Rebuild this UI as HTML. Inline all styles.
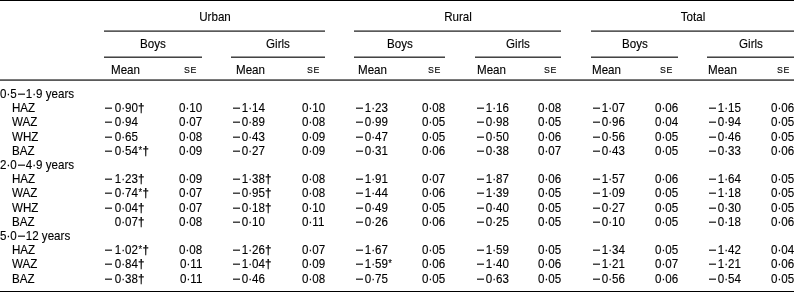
<!DOCTYPE html>
<html><head><meta charset="utf-8"><style>
html,body{margin:0;padding:0;background:#fff;}
body{width:794px;height:292px;position:relative;overflow:hidden;font-family:"Liberation Sans", sans-serif;color:#000;-webkit-text-stroke:0.12px #000;}
.t{position:absolute;white-space:nowrap;will-change:transform;}
.c{text-align:center;}
.l{position:absolute;}
.g{display:inline-block;width:2.17px;}
.m{display:inline-block;width:6.8px;height:1.2px;background:#000;vertical-align:2.85px;margin-left:0.8px;}
b{font-weight:bold;}
.m.c0{margin-left:0px;}
.g.c0{width:2.9699999999999998px;}
.a{font-size:0.8em;line-height:0;vertical-align:0.08em;margin-left:0.4px;margin-right:0.5px;}
.m.d{margin-left:1.5px;margin-right:0.77px;width:6.7px;}
</style></head><body>
<div class="l" style="left:0px;width:794px;top:0px;height:1px;background:#000"></div>
<div class="l" style="left:0px;width:794px;top:79px;height:1px;background:#7a7a7a"></div>
<div class="l" style="left:0px;width:794px;top:80px;height:1px;background:#5a5a5a"></div>
<div class="l" style="left:0px;width:794px;top:291px;height:1px;background:#000"></div>
<div class="t c" style="left:114.50px;width:200px;top:11.28px;font-size:11.6px;line-height:11.6px;transform:scale(1.0,1.1);transform-origin:50% 9.82px;">Urban</div>
<div class="l" style="left:104px;width:221px;top:30px;height:1px;background:#8a8a8a"></div>
<div class="l" style="left:104px;width:221px;top:31px;height:1px;background:#5a5a5a"></div>
<div class="t c" style="left:357.50px;width:200px;top:11.28px;font-size:11.6px;line-height:11.6px;transform:scale(1.0,1.1);transform-origin:50% 9.82px;">Rural</div>
<div class="l" style="left:354px;width:207px;top:30px;height:1px;background:#8a8a8a"></div>
<div class="l" style="left:354px;width:207px;top:31px;height:1px;background:#5a5a5a"></div>
<div class="t c" style="left:592.50px;width:200px;top:11.28px;font-size:11.6px;line-height:11.6px;transform:scale(1.0,1.1);transform-origin:50% 9.82px;">Total</div>
<div class="l" style="left:591px;width:203px;top:30px;height:1px;background:#8a8a8a"></div>
<div class="l" style="left:591px;width:203px;top:31px;height:1px;background:#5a5a5a"></div>
<div class="t c" style="left:53.00px;width:200px;top:37.68px;font-size:11.6px;line-height:11.6px;transform:scale(1.0,1.1);transform-origin:50% 9.82px;">Boys</div>
<div class="l" style="left:104px;width:98px;top:56px;height:1px;background:#9a9a9a"></div>
<div class="l" style="left:104px;width:98px;top:57px;height:1px;background:#444"></div>
<div class="t" style="left:110.90px;top:63.98px;font-size:11.6px;line-height:11.6px;transform:scale(1.0,1.1);transform-origin:0 9.82px;">Mean</div>
<div class="t" style="right:597.90px;top:66.15px;font-size:8.8px;line-height:8.8px;transform:scale(1.0,1.1);transform-origin:100% 7.45px;letter-spacing:0.5px;">S<span style="letter-spacing:0">E</span></div>
<div class="t c" style="left:178.00px;width:200px;top:37.68px;font-size:11.6px;line-height:11.6px;transform:scale(1.0,1.1);transform-origin:50% 9.82px;">Girls</div>
<div class="l" style="left:231px;width:94px;top:56px;height:1px;background:#9a9a9a"></div>
<div class="l" style="left:231px;width:94px;top:57px;height:1px;background:#444"></div>
<div class="t" style="left:236.30px;top:63.98px;font-size:11.6px;line-height:11.6px;transform:scale(1.0,1.1);transform-origin:0 9.82px;">Mean</div>
<div class="t" style="right:475.10px;top:66.15px;font-size:8.8px;line-height:8.8px;transform:scale(1.0,1.1);transform-origin:100% 7.45px;letter-spacing:0.5px;">S<span style="letter-spacing:0">E</span></div>
<div class="t c" style="left:299.50px;width:200px;top:37.68px;font-size:11.6px;line-height:11.6px;transform:scale(1.0,1.1);transform-origin:50% 9.82px;">Boys</div>
<div class="l" style="left:354px;width:91px;top:56px;height:1px;background:#9a9a9a"></div>
<div class="l" style="left:354px;width:91px;top:57px;height:1px;background:#444"></div>
<div class="t" style="left:357.50px;top:63.98px;font-size:11.6px;line-height:11.6px;transform:scale(1.0,1.1);transform-origin:0 9.82px;">Mean</div>
<div class="t" style="right:354.20px;top:66.15px;font-size:8.8px;line-height:8.8px;transform:scale(1.0,1.1);transform-origin:100% 7.45px;letter-spacing:0.5px;">S<span style="letter-spacing:0">E</span></div>
<div class="t c" style="left:418.00px;width:200px;top:37.68px;font-size:11.6px;line-height:11.6px;transform:scale(1.0,1.1);transform-origin:50% 9.82px;">Girls</div>
<div class="l" style="left:475px;width:86px;top:56px;height:1px;background:#9a9a9a"></div>
<div class="l" style="left:475px;width:86px;top:57px;height:1px;background:#444"></div>
<div class="t" style="left:476.70px;top:63.98px;font-size:11.6px;line-height:11.6px;transform:scale(1.0,1.1);transform-origin:0 9.82px;">Mean</div>
<div class="t" style="right:238.20px;top:66.15px;font-size:8.8px;line-height:8.8px;transform:scale(1.0,1.1);transform-origin:100% 7.45px;letter-spacing:0.5px;">S<span style="letter-spacing:0">E</span></div>
<div class="t c" style="left:534.50px;width:200px;top:37.68px;font-size:11.6px;line-height:11.6px;transform:scale(1.0,1.1);transform-origin:50% 9.82px;">Boys</div>
<div class="l" style="left:591px;width:87px;top:56px;height:1px;background:#9a9a9a"></div>
<div class="l" style="left:591px;width:87px;top:57px;height:1px;background:#444"></div>
<div class="t" style="left:592.40px;top:63.98px;font-size:11.6px;line-height:11.6px;transform:scale(1.0,1.1);transform-origin:0 9.82px;">Mean</div>
<div class="t" style="right:121.70px;top:66.15px;font-size:8.8px;line-height:8.8px;transform:scale(1.0,1.1);transform-origin:100% 7.45px;letter-spacing:0.5px;">S<span style="letter-spacing:0">E</span></div>
<div class="t c" style="left:650.50px;width:200px;top:37.68px;font-size:11.6px;line-height:11.6px;transform:scale(1.0,1.1);transform-origin:50% 9.82px;">Girls</div>
<div class="l" style="left:707px;width:87px;top:56px;height:1px;background:#9a9a9a"></div>
<div class="l" style="left:707px;width:87px;top:57px;height:1px;background:#444"></div>
<div class="t" style="left:708.10px;top:63.98px;font-size:11.6px;line-height:11.6px;transform:scale(1.0,1.1);transform-origin:0 9.82px;">Mean</div>
<div class="t" style="right:5.20px;top:66.15px;font-size:8.8px;line-height:8.8px;transform:scale(1.0,1.1);transform-origin:100% 7.45px;letter-spacing:0.5px;">S<span style="letter-spacing:0">E</span></div>
<div class="t" style="left:0.00px;top:88.08px;font-size:11.6px;line-height:11.6px;transform:scale(1.0,1.1);transform-origin:0 9.82px;">0·5<span class="m d"></span>1·9 years</div>
<div class="t" style="left:11.80px;top:102.27px;font-size:11.6px;line-height:11.6px;transform:scale(1.0,1.1);transform-origin:0 9.82px;">HAZ</div>
<div class="t" style="left:105.00px;top:102.27px;font-size:11.6px;line-height:11.6px;transform:scale(1.0,1.1);transform-origin:0 9.82px;"><span class="m c0"></span><span class="g c0"></span>0·90<b>†</b></div>
<div class="t" style="right:592.10px;top:102.27px;font-size:11.6px;line-height:11.6px;transform:scale(1.0,1.1);transform-origin:100% 9.82px;">0·10</div>
<div class="t" style="left:232.00px;top:102.27px;font-size:11.6px;line-height:11.6px;transform:scale(1.0,1.1);transform-origin:0 9.82px;"><span class="m"></span><span class="g"></span>1·14</div>
<div class="t" style="right:469.20px;top:102.27px;font-size:11.6px;line-height:11.6px;transform:scale(1.0,1.1);transform-origin:100% 9.82px;">0·10</div>
<div class="t" style="left:355.00px;top:102.27px;font-size:11.6px;line-height:11.6px;transform:scale(1.0,1.1);transform-origin:0 9.82px;"><span class="m"></span><span class="g"></span>1·23</div>
<div class="t" style="right:348.90px;top:102.27px;font-size:11.6px;line-height:11.6px;transform:scale(1.0,1.1);transform-origin:100% 9.82px;">0·08</div>
<div class="t" style="left:476.00px;top:102.27px;font-size:11.6px;line-height:11.6px;transform:scale(1.0,1.1);transform-origin:0 9.82px;"><span class="m"></span><span class="g"></span>1·16</div>
<div class="t" style="right:232.60px;top:102.27px;font-size:11.6px;line-height:11.6px;transform:scale(1.0,1.1);transform-origin:100% 9.82px;">0·08</div>
<div class="t" style="left:592.00px;top:102.27px;font-size:11.6px;line-height:11.6px;transform:scale(1.0,1.1);transform-origin:0 9.82px;"><span class="m"></span><span class="g"></span>1·07</div>
<div class="t" style="right:116.00px;top:102.27px;font-size:11.6px;line-height:11.6px;transform:scale(1.0,1.1);transform-origin:100% 9.82px;">0·06</div>
<div class="t" style="left:708.00px;top:102.27px;font-size:11.6px;line-height:11.6px;transform:scale(1.0,1.1);transform-origin:0 9.82px;"><span class="m"></span><span class="g"></span>1·15</div>
<div class="t" style="right:0.00px;top:102.27px;font-size:11.6px;line-height:11.6px;transform:scale(1.0,1.1);transform-origin:100% 9.82px;">0·06</div>
<div class="t" style="left:11.80px;top:116.46px;font-size:11.6px;line-height:11.6px;transform:scale(1.0,1.1);transform-origin:0 9.82px;">WAZ</div>
<div class="t" style="left:105.00px;top:116.46px;font-size:11.6px;line-height:11.6px;transform:scale(1.0,1.1);transform-origin:0 9.82px;"><span class="m c0"></span><span class="g c0"></span>0·94</div>
<div class="t" style="right:592.10px;top:116.46px;font-size:11.6px;line-height:11.6px;transform:scale(1.0,1.1);transform-origin:100% 9.82px;">0·07</div>
<div class="t" style="left:232.00px;top:116.46px;font-size:11.6px;line-height:11.6px;transform:scale(1.0,1.1);transform-origin:0 9.82px;"><span class="m"></span><span class="g"></span>0·89</div>
<div class="t" style="right:469.20px;top:116.46px;font-size:11.6px;line-height:11.6px;transform:scale(1.0,1.1);transform-origin:100% 9.82px;">0·08</div>
<div class="t" style="left:355.00px;top:116.46px;font-size:11.6px;line-height:11.6px;transform:scale(1.0,1.1);transform-origin:0 9.82px;"><span class="m"></span><span class="g"></span>0·99</div>
<div class="t" style="right:348.90px;top:116.46px;font-size:11.6px;line-height:11.6px;transform:scale(1.0,1.1);transform-origin:100% 9.82px;">0·05</div>
<div class="t" style="left:476.00px;top:116.46px;font-size:11.6px;line-height:11.6px;transform:scale(1.0,1.1);transform-origin:0 9.82px;"><span class="m"></span><span class="g"></span>0·98</div>
<div class="t" style="right:232.60px;top:116.46px;font-size:11.6px;line-height:11.6px;transform:scale(1.0,1.1);transform-origin:100% 9.82px;">0·05</div>
<div class="t" style="left:592.00px;top:116.46px;font-size:11.6px;line-height:11.6px;transform:scale(1.0,1.1);transform-origin:0 9.82px;"><span class="m"></span><span class="g"></span>0·96</div>
<div class="t" style="right:116.00px;top:116.46px;font-size:11.6px;line-height:11.6px;transform:scale(1.0,1.1);transform-origin:100% 9.82px;">0·04</div>
<div class="t" style="left:708.00px;top:116.46px;font-size:11.6px;line-height:11.6px;transform:scale(1.0,1.1);transform-origin:0 9.82px;"><span class="m"></span><span class="g"></span>0·94</div>
<div class="t" style="right:0.00px;top:116.46px;font-size:11.6px;line-height:11.6px;transform:scale(1.0,1.1);transform-origin:100% 9.82px;">0·05</div>
<div class="t" style="left:11.80px;top:130.65px;font-size:11.6px;line-height:11.6px;transform:scale(1.0,1.1);transform-origin:0 9.82px;">WHZ</div>
<div class="t" style="left:105.00px;top:130.65px;font-size:11.6px;line-height:11.6px;transform:scale(1.0,1.1);transform-origin:0 9.82px;"><span class="m c0"></span><span class="g c0"></span>0·65</div>
<div class="t" style="right:592.10px;top:130.65px;font-size:11.6px;line-height:11.6px;transform:scale(1.0,1.1);transform-origin:100% 9.82px;">0·08</div>
<div class="t" style="left:232.00px;top:130.65px;font-size:11.6px;line-height:11.6px;transform:scale(1.0,1.1);transform-origin:0 9.82px;"><span class="m"></span><span class="g"></span>0·43</div>
<div class="t" style="right:469.20px;top:130.65px;font-size:11.6px;line-height:11.6px;transform:scale(1.0,1.1);transform-origin:100% 9.82px;">0·09</div>
<div class="t" style="left:355.00px;top:130.65px;font-size:11.6px;line-height:11.6px;transform:scale(1.0,1.1);transform-origin:0 9.82px;"><span class="m"></span><span class="g"></span>0·47</div>
<div class="t" style="right:348.90px;top:130.65px;font-size:11.6px;line-height:11.6px;transform:scale(1.0,1.1);transform-origin:100% 9.82px;">0·05</div>
<div class="t" style="left:476.00px;top:130.65px;font-size:11.6px;line-height:11.6px;transform:scale(1.0,1.1);transform-origin:0 9.82px;"><span class="m"></span><span class="g"></span>0·50</div>
<div class="t" style="right:232.60px;top:130.65px;font-size:11.6px;line-height:11.6px;transform:scale(1.0,1.1);transform-origin:100% 9.82px;">0·06</div>
<div class="t" style="left:592.00px;top:130.65px;font-size:11.6px;line-height:11.6px;transform:scale(1.0,1.1);transform-origin:0 9.82px;"><span class="m"></span><span class="g"></span>0·56</div>
<div class="t" style="right:116.00px;top:130.65px;font-size:11.6px;line-height:11.6px;transform:scale(1.0,1.1);transform-origin:100% 9.82px;">0·05</div>
<div class="t" style="left:708.00px;top:130.65px;font-size:11.6px;line-height:11.6px;transform:scale(1.0,1.1);transform-origin:0 9.82px;"><span class="m"></span><span class="g"></span>0·46</div>
<div class="t" style="right:0.00px;top:130.65px;font-size:11.6px;line-height:11.6px;transform:scale(1.0,1.1);transform-origin:100% 9.82px;">0·05</div>
<div class="t" style="left:11.80px;top:144.84px;font-size:11.6px;line-height:11.6px;transform:scale(1.0,1.1);transform-origin:0 9.82px;">BAZ</div>
<div class="t" style="left:105.00px;top:144.84px;font-size:11.6px;line-height:11.6px;transform:scale(1.0,1.1);transform-origin:0 9.82px;"><span class="m c0"></span><span class="g c0"></span>0·54<span class="a">*</span><b>†</b></div>
<div class="t" style="right:592.10px;top:144.84px;font-size:11.6px;line-height:11.6px;transform:scale(1.0,1.1);transform-origin:100% 9.82px;">0·09</div>
<div class="t" style="left:232.00px;top:144.84px;font-size:11.6px;line-height:11.6px;transform:scale(1.0,1.1);transform-origin:0 9.82px;"><span class="m"></span><span class="g"></span>0·27</div>
<div class="t" style="right:469.20px;top:144.84px;font-size:11.6px;line-height:11.6px;transform:scale(1.0,1.1);transform-origin:100% 9.82px;">0·09</div>
<div class="t" style="left:355.00px;top:144.84px;font-size:11.6px;line-height:11.6px;transform:scale(1.0,1.1);transform-origin:0 9.82px;"><span class="m"></span><span class="g"></span>0·31</div>
<div class="t" style="right:348.90px;top:144.84px;font-size:11.6px;line-height:11.6px;transform:scale(1.0,1.1);transform-origin:100% 9.82px;">0·06</div>
<div class="t" style="left:476.00px;top:144.84px;font-size:11.6px;line-height:11.6px;transform:scale(1.0,1.1);transform-origin:0 9.82px;"><span class="m"></span><span class="g"></span>0·38</div>
<div class="t" style="right:232.60px;top:144.84px;font-size:11.6px;line-height:11.6px;transform:scale(1.0,1.1);transform-origin:100% 9.82px;">0·07</div>
<div class="t" style="left:592.00px;top:144.84px;font-size:11.6px;line-height:11.6px;transform:scale(1.0,1.1);transform-origin:0 9.82px;"><span class="m"></span><span class="g"></span>0·43</div>
<div class="t" style="right:116.00px;top:144.84px;font-size:11.6px;line-height:11.6px;transform:scale(1.0,1.1);transform-origin:100% 9.82px;">0·05</div>
<div class="t" style="left:708.00px;top:144.84px;font-size:11.6px;line-height:11.6px;transform:scale(1.0,1.1);transform-origin:0 9.82px;"><span class="m"></span><span class="g"></span>0·33</div>
<div class="t" style="right:0.00px;top:144.84px;font-size:11.6px;line-height:11.6px;transform:scale(1.0,1.1);transform-origin:100% 9.82px;">0·06</div>
<div class="t" style="left:0.00px;top:159.03px;font-size:11.6px;line-height:11.6px;transform:scale(1.0,1.1);transform-origin:0 9.82px;">2·0<span class="m d"></span>4·9 years</div>
<div class="t" style="left:11.80px;top:173.22px;font-size:11.6px;line-height:11.6px;transform:scale(1.0,1.1);transform-origin:0 9.82px;">HAZ</div>
<div class="t" style="left:105.00px;top:173.22px;font-size:11.6px;line-height:11.6px;transform:scale(1.0,1.1);transform-origin:0 9.82px;"><span class="m c0"></span><span class="g c0"></span>1·23<b>†</b></div>
<div class="t" style="right:592.10px;top:173.22px;font-size:11.6px;line-height:11.6px;transform:scale(1.0,1.1);transform-origin:100% 9.82px;">0·09</div>
<div class="t" style="left:232.00px;top:173.22px;font-size:11.6px;line-height:11.6px;transform:scale(1.0,1.1);transform-origin:0 9.82px;"><span class="m"></span><span class="g"></span>1·38<b>†</b></div>
<div class="t" style="right:469.20px;top:173.22px;font-size:11.6px;line-height:11.6px;transform:scale(1.0,1.1);transform-origin:100% 9.82px;">0·08</div>
<div class="t" style="left:355.00px;top:173.22px;font-size:11.6px;line-height:11.6px;transform:scale(1.0,1.1);transform-origin:0 9.82px;"><span class="m"></span><span class="g"></span>1·91</div>
<div class="t" style="right:348.90px;top:173.22px;font-size:11.6px;line-height:11.6px;transform:scale(1.0,1.1);transform-origin:100% 9.82px;">0·07</div>
<div class="t" style="left:476.00px;top:173.22px;font-size:11.6px;line-height:11.6px;transform:scale(1.0,1.1);transform-origin:0 9.82px;"><span class="m"></span><span class="g"></span>1·87</div>
<div class="t" style="right:232.60px;top:173.22px;font-size:11.6px;line-height:11.6px;transform:scale(1.0,1.1);transform-origin:100% 9.82px;">0·06</div>
<div class="t" style="left:592.00px;top:173.22px;font-size:11.6px;line-height:11.6px;transform:scale(1.0,1.1);transform-origin:0 9.82px;"><span class="m"></span><span class="g"></span>1·57</div>
<div class="t" style="right:116.00px;top:173.22px;font-size:11.6px;line-height:11.6px;transform:scale(1.0,1.1);transform-origin:100% 9.82px;">0·06</div>
<div class="t" style="left:708.00px;top:173.22px;font-size:11.6px;line-height:11.6px;transform:scale(1.0,1.1);transform-origin:0 9.82px;"><span class="m"></span><span class="g"></span>1·64</div>
<div class="t" style="right:0.00px;top:173.22px;font-size:11.6px;line-height:11.6px;transform:scale(1.0,1.1);transform-origin:100% 9.82px;">0·05</div>
<div class="t" style="left:11.80px;top:187.41px;font-size:11.6px;line-height:11.6px;transform:scale(1.0,1.1);transform-origin:0 9.82px;">WAZ</div>
<div class="t" style="left:105.00px;top:187.41px;font-size:11.6px;line-height:11.6px;transform:scale(1.0,1.1);transform-origin:0 9.82px;"><span class="m c0"></span><span class="g c0"></span>0·74<span class="a">*</span><b>†</b></div>
<div class="t" style="right:592.10px;top:187.41px;font-size:11.6px;line-height:11.6px;transform:scale(1.0,1.1);transform-origin:100% 9.82px;">0·07</div>
<div class="t" style="left:232.00px;top:187.41px;font-size:11.6px;line-height:11.6px;transform:scale(1.0,1.1);transform-origin:0 9.82px;"><span class="m"></span><span class="g"></span>0·95<b>†</b></div>
<div class="t" style="right:469.20px;top:187.41px;font-size:11.6px;line-height:11.6px;transform:scale(1.0,1.1);transform-origin:100% 9.82px;">0·08</div>
<div class="t" style="left:355.00px;top:187.41px;font-size:11.6px;line-height:11.6px;transform:scale(1.0,1.1);transform-origin:0 9.82px;"><span class="m"></span><span class="g"></span>1·44</div>
<div class="t" style="right:348.90px;top:187.41px;font-size:11.6px;line-height:11.6px;transform:scale(1.0,1.1);transform-origin:100% 9.82px;">0·06</div>
<div class="t" style="left:476.00px;top:187.41px;font-size:11.6px;line-height:11.6px;transform:scale(1.0,1.1);transform-origin:0 9.82px;"><span class="m"></span><span class="g"></span>1·39</div>
<div class="t" style="right:232.60px;top:187.41px;font-size:11.6px;line-height:11.6px;transform:scale(1.0,1.1);transform-origin:100% 9.82px;">0·05</div>
<div class="t" style="left:592.00px;top:187.41px;font-size:11.6px;line-height:11.6px;transform:scale(1.0,1.1);transform-origin:0 9.82px;"><span class="m"></span><span class="g"></span>1·09</div>
<div class="t" style="right:116.00px;top:187.41px;font-size:11.6px;line-height:11.6px;transform:scale(1.0,1.1);transform-origin:100% 9.82px;">0·05</div>
<div class="t" style="left:708.00px;top:187.41px;font-size:11.6px;line-height:11.6px;transform:scale(1.0,1.1);transform-origin:0 9.82px;"><span class="m"></span><span class="g"></span>1·18</div>
<div class="t" style="right:0.00px;top:187.41px;font-size:11.6px;line-height:11.6px;transform:scale(1.0,1.1);transform-origin:100% 9.82px;">0·05</div>
<div class="t" style="left:11.80px;top:201.60px;font-size:11.6px;line-height:11.6px;transform:scale(1.0,1.1);transform-origin:0 9.82px;">WHZ</div>
<div class="t" style="left:105.00px;top:201.60px;font-size:11.6px;line-height:11.6px;transform:scale(1.0,1.1);transform-origin:0 9.82px;"><span class="m c0"></span><span class="g c0"></span>0·04<b>†</b></div>
<div class="t" style="right:592.10px;top:201.60px;font-size:11.6px;line-height:11.6px;transform:scale(1.0,1.1);transform-origin:100% 9.82px;">0·07</div>
<div class="t" style="left:232.00px;top:201.60px;font-size:11.6px;line-height:11.6px;transform:scale(1.0,1.1);transform-origin:0 9.82px;"><span class="m"></span><span class="g"></span>0·18<b>†</b></div>
<div class="t" style="right:469.20px;top:201.60px;font-size:11.6px;line-height:11.6px;transform:scale(1.0,1.1);transform-origin:100% 9.82px;">0·10</div>
<div class="t" style="left:355.00px;top:201.60px;font-size:11.6px;line-height:11.6px;transform:scale(1.0,1.1);transform-origin:0 9.82px;"><span class="m"></span><span class="g"></span>0·49</div>
<div class="t" style="right:348.90px;top:201.60px;font-size:11.6px;line-height:11.6px;transform:scale(1.0,1.1);transform-origin:100% 9.82px;">0·05</div>
<div class="t" style="left:476.00px;top:201.60px;font-size:11.6px;line-height:11.6px;transform:scale(1.0,1.1);transform-origin:0 9.82px;"><span class="m"></span><span class="g"></span>0·40</div>
<div class="t" style="right:232.60px;top:201.60px;font-size:11.6px;line-height:11.6px;transform:scale(1.0,1.1);transform-origin:100% 9.82px;">0·05</div>
<div class="t" style="left:592.00px;top:201.60px;font-size:11.6px;line-height:11.6px;transform:scale(1.0,1.1);transform-origin:0 9.82px;"><span class="m"></span><span class="g"></span>0·27</div>
<div class="t" style="right:116.00px;top:201.60px;font-size:11.6px;line-height:11.6px;transform:scale(1.0,1.1);transform-origin:100% 9.82px;">0·05</div>
<div class="t" style="left:708.00px;top:201.60px;font-size:11.6px;line-height:11.6px;transform:scale(1.0,1.1);transform-origin:0 9.82px;"><span class="m"></span><span class="g"></span>0·30</div>
<div class="t" style="right:0.00px;top:201.60px;font-size:11.6px;line-height:11.6px;transform:scale(1.0,1.1);transform-origin:100% 9.82px;">0·05</div>
<div class="t" style="left:11.80px;top:215.79px;font-size:11.6px;line-height:11.6px;transform:scale(1.0,1.1);transform-origin:0 9.82px;">BAZ</div>
<div class="t" style="left:105.00px;top:215.79px;font-size:11.6px;line-height:11.6px;transform:scale(1.0,1.1);transform-origin:0 9.82px;"><span style="visibility:hidden"><span class="m c0"></span><span class="g c0"></span></span>0·07<b>†</b></div>
<div class="t" style="right:592.10px;top:215.79px;font-size:11.6px;line-height:11.6px;transform:scale(1.0,1.1);transform-origin:100% 9.82px;">0·08</div>
<div class="t" style="left:232.00px;top:215.79px;font-size:11.6px;line-height:11.6px;transform:scale(1.0,1.1);transform-origin:0 9.82px;"><span class="m"></span><span class="g"></span>0·10</div>
<div class="t" style="right:469.20px;top:215.79px;font-size:11.6px;line-height:11.6px;transform:scale(1.0,1.1);transform-origin:100% 9.82px;">0·11</div>
<div class="t" style="left:355.00px;top:215.79px;font-size:11.6px;line-height:11.6px;transform:scale(1.0,1.1);transform-origin:0 9.82px;"><span class="m"></span><span class="g"></span>0·26</div>
<div class="t" style="right:348.90px;top:215.79px;font-size:11.6px;line-height:11.6px;transform:scale(1.0,1.1);transform-origin:100% 9.82px;">0·06</div>
<div class="t" style="left:476.00px;top:215.79px;font-size:11.6px;line-height:11.6px;transform:scale(1.0,1.1);transform-origin:0 9.82px;"><span class="m"></span><span class="g"></span>0·25</div>
<div class="t" style="right:232.60px;top:215.79px;font-size:11.6px;line-height:11.6px;transform:scale(1.0,1.1);transform-origin:100% 9.82px;">0·05</div>
<div class="t" style="left:592.00px;top:215.79px;font-size:11.6px;line-height:11.6px;transform:scale(1.0,1.1);transform-origin:0 9.82px;"><span class="m"></span><span class="g"></span>0·10</div>
<div class="t" style="right:116.00px;top:215.79px;font-size:11.6px;line-height:11.6px;transform:scale(1.0,1.1);transform-origin:100% 9.82px;">0·05</div>
<div class="t" style="left:708.00px;top:215.79px;font-size:11.6px;line-height:11.6px;transform:scale(1.0,1.1);transform-origin:0 9.82px;"><span class="m"></span><span class="g"></span>0·18</div>
<div class="t" style="right:0.00px;top:215.79px;font-size:11.6px;line-height:11.6px;transform:scale(1.0,1.1);transform-origin:100% 9.82px;">0·06</div>
<div class="t" style="left:0.00px;top:229.98px;font-size:11.6px;line-height:11.6px;transform:scale(1.0,1.1);transform-origin:0 9.82px;">5·0<span class="m d"></span>12 years</div>
<div class="t" style="left:11.80px;top:244.17px;font-size:11.6px;line-height:11.6px;transform:scale(1.0,1.1);transform-origin:0 9.82px;">HAZ</div>
<div class="t" style="left:105.00px;top:244.17px;font-size:11.6px;line-height:11.6px;transform:scale(1.0,1.1);transform-origin:0 9.82px;"><span class="m c0"></span><span class="g c0"></span>1·02<span class="a">*</span><b>†</b></div>
<div class="t" style="right:592.10px;top:244.17px;font-size:11.6px;line-height:11.6px;transform:scale(1.0,1.1);transform-origin:100% 9.82px;">0·08</div>
<div class="t" style="left:232.00px;top:244.17px;font-size:11.6px;line-height:11.6px;transform:scale(1.0,1.1);transform-origin:0 9.82px;"><span class="m"></span><span class="g"></span>1·26<b>†</b></div>
<div class="t" style="right:469.20px;top:244.17px;font-size:11.6px;line-height:11.6px;transform:scale(1.0,1.1);transform-origin:100% 9.82px;">0·07</div>
<div class="t" style="left:355.00px;top:244.17px;font-size:11.6px;line-height:11.6px;transform:scale(1.0,1.1);transform-origin:0 9.82px;"><span class="m"></span><span class="g"></span>1·67</div>
<div class="t" style="right:348.90px;top:244.17px;font-size:11.6px;line-height:11.6px;transform:scale(1.0,1.1);transform-origin:100% 9.82px;">0·05</div>
<div class="t" style="left:476.00px;top:244.17px;font-size:11.6px;line-height:11.6px;transform:scale(1.0,1.1);transform-origin:0 9.82px;"><span class="m"></span><span class="g"></span>1·59</div>
<div class="t" style="right:232.60px;top:244.17px;font-size:11.6px;line-height:11.6px;transform:scale(1.0,1.1);transform-origin:100% 9.82px;">0·05</div>
<div class="t" style="left:592.00px;top:244.17px;font-size:11.6px;line-height:11.6px;transform:scale(1.0,1.1);transform-origin:0 9.82px;"><span class="m"></span><span class="g"></span>1·34</div>
<div class="t" style="right:116.00px;top:244.17px;font-size:11.6px;line-height:11.6px;transform:scale(1.0,1.1);transform-origin:100% 9.82px;">0·05</div>
<div class="t" style="left:708.00px;top:244.17px;font-size:11.6px;line-height:11.6px;transform:scale(1.0,1.1);transform-origin:0 9.82px;"><span class="m"></span><span class="g"></span>1·42</div>
<div class="t" style="right:0.00px;top:244.17px;font-size:11.6px;line-height:11.6px;transform:scale(1.0,1.1);transform-origin:100% 9.82px;">0·04</div>
<div class="t" style="left:11.80px;top:258.36px;font-size:11.6px;line-height:11.6px;transform:scale(1.0,1.1);transform-origin:0 9.82px;">WAZ</div>
<div class="t" style="left:105.00px;top:258.36px;font-size:11.6px;line-height:11.6px;transform:scale(1.0,1.1);transform-origin:0 9.82px;"><span class="m c0"></span><span class="g c0"></span>0·84<b>†</b></div>
<div class="t" style="right:592.10px;top:258.36px;font-size:11.6px;line-height:11.6px;transform:scale(1.0,1.1);transform-origin:100% 9.82px;">0·11</div>
<div class="t" style="left:232.00px;top:258.36px;font-size:11.6px;line-height:11.6px;transform:scale(1.0,1.1);transform-origin:0 9.82px;"><span class="m"></span><span class="g"></span>1·04<b>†</b></div>
<div class="t" style="right:469.20px;top:258.36px;font-size:11.6px;line-height:11.6px;transform:scale(1.0,1.1);transform-origin:100% 9.82px;">0·09</div>
<div class="t" style="left:355.00px;top:258.36px;font-size:11.6px;line-height:11.6px;transform:scale(1.0,1.1);transform-origin:0 9.82px;"><span class="m"></span><span class="g"></span>1·59<span class="a">*</span></div>
<div class="t" style="right:348.90px;top:258.36px;font-size:11.6px;line-height:11.6px;transform:scale(1.0,1.1);transform-origin:100% 9.82px;">0·06</div>
<div class="t" style="left:476.00px;top:258.36px;font-size:11.6px;line-height:11.6px;transform:scale(1.0,1.1);transform-origin:0 9.82px;"><span class="m"></span><span class="g"></span>1·40</div>
<div class="t" style="right:232.60px;top:258.36px;font-size:11.6px;line-height:11.6px;transform:scale(1.0,1.1);transform-origin:100% 9.82px;">0·06</div>
<div class="t" style="left:592.00px;top:258.36px;font-size:11.6px;line-height:11.6px;transform:scale(1.0,1.1);transform-origin:0 9.82px;"><span class="m"></span><span class="g"></span>1·21</div>
<div class="t" style="right:116.00px;top:258.36px;font-size:11.6px;line-height:11.6px;transform:scale(1.0,1.1);transform-origin:100% 9.82px;">0·07</div>
<div class="t" style="left:708.00px;top:258.36px;font-size:11.6px;line-height:11.6px;transform:scale(1.0,1.1);transform-origin:0 9.82px;"><span class="m"></span><span class="g"></span>1·21</div>
<div class="t" style="right:0.00px;top:258.36px;font-size:11.6px;line-height:11.6px;transform:scale(1.0,1.1);transform-origin:100% 9.82px;">0·06</div>
<div class="t" style="left:11.80px;top:272.55px;font-size:11.6px;line-height:11.6px;transform:scale(1.0,1.1);transform-origin:0 9.82px;">BAZ</div>
<div class="t" style="left:105.00px;top:272.55px;font-size:11.6px;line-height:11.6px;transform:scale(1.0,1.1);transform-origin:0 9.82px;"><span class="m c0"></span><span class="g c0"></span>0·38<b>†</b></div>
<div class="t" style="right:592.10px;top:272.55px;font-size:11.6px;line-height:11.6px;transform:scale(1.0,1.1);transform-origin:100% 9.82px;">0·11</div>
<div class="t" style="left:232.00px;top:272.55px;font-size:11.6px;line-height:11.6px;transform:scale(1.0,1.1);transform-origin:0 9.82px;"><span class="m"></span><span class="g"></span>0·46</div>
<div class="t" style="right:469.20px;top:272.55px;font-size:11.6px;line-height:11.6px;transform:scale(1.0,1.1);transform-origin:100% 9.82px;">0·08</div>
<div class="t" style="left:355.00px;top:272.55px;font-size:11.6px;line-height:11.6px;transform:scale(1.0,1.1);transform-origin:0 9.82px;"><span class="m"></span><span class="g"></span>0·75</div>
<div class="t" style="right:348.90px;top:272.55px;font-size:11.6px;line-height:11.6px;transform:scale(1.0,1.1);transform-origin:100% 9.82px;">0·05</div>
<div class="t" style="left:476.00px;top:272.55px;font-size:11.6px;line-height:11.6px;transform:scale(1.0,1.1);transform-origin:0 9.82px;"><span class="m"></span><span class="g"></span>0·63</div>
<div class="t" style="right:232.60px;top:272.55px;font-size:11.6px;line-height:11.6px;transform:scale(1.0,1.1);transform-origin:100% 9.82px;">0·05</div>
<div class="t" style="left:592.00px;top:272.55px;font-size:11.6px;line-height:11.6px;transform:scale(1.0,1.1);transform-origin:0 9.82px;"><span class="m"></span><span class="g"></span>0·56</div>
<div class="t" style="right:116.00px;top:272.55px;font-size:11.6px;line-height:11.6px;transform:scale(1.0,1.1);transform-origin:100% 9.82px;">0·06</div>
<div class="t" style="left:708.00px;top:272.55px;font-size:11.6px;line-height:11.6px;transform:scale(1.0,1.1);transform-origin:0 9.82px;"><span class="m"></span><span class="g"></span>0·54</div>
<div class="t" style="right:0.00px;top:272.55px;font-size:11.6px;line-height:11.6px;transform:scale(1.0,1.1);transform-origin:100% 9.82px;">0·05</div>
</body></html>
